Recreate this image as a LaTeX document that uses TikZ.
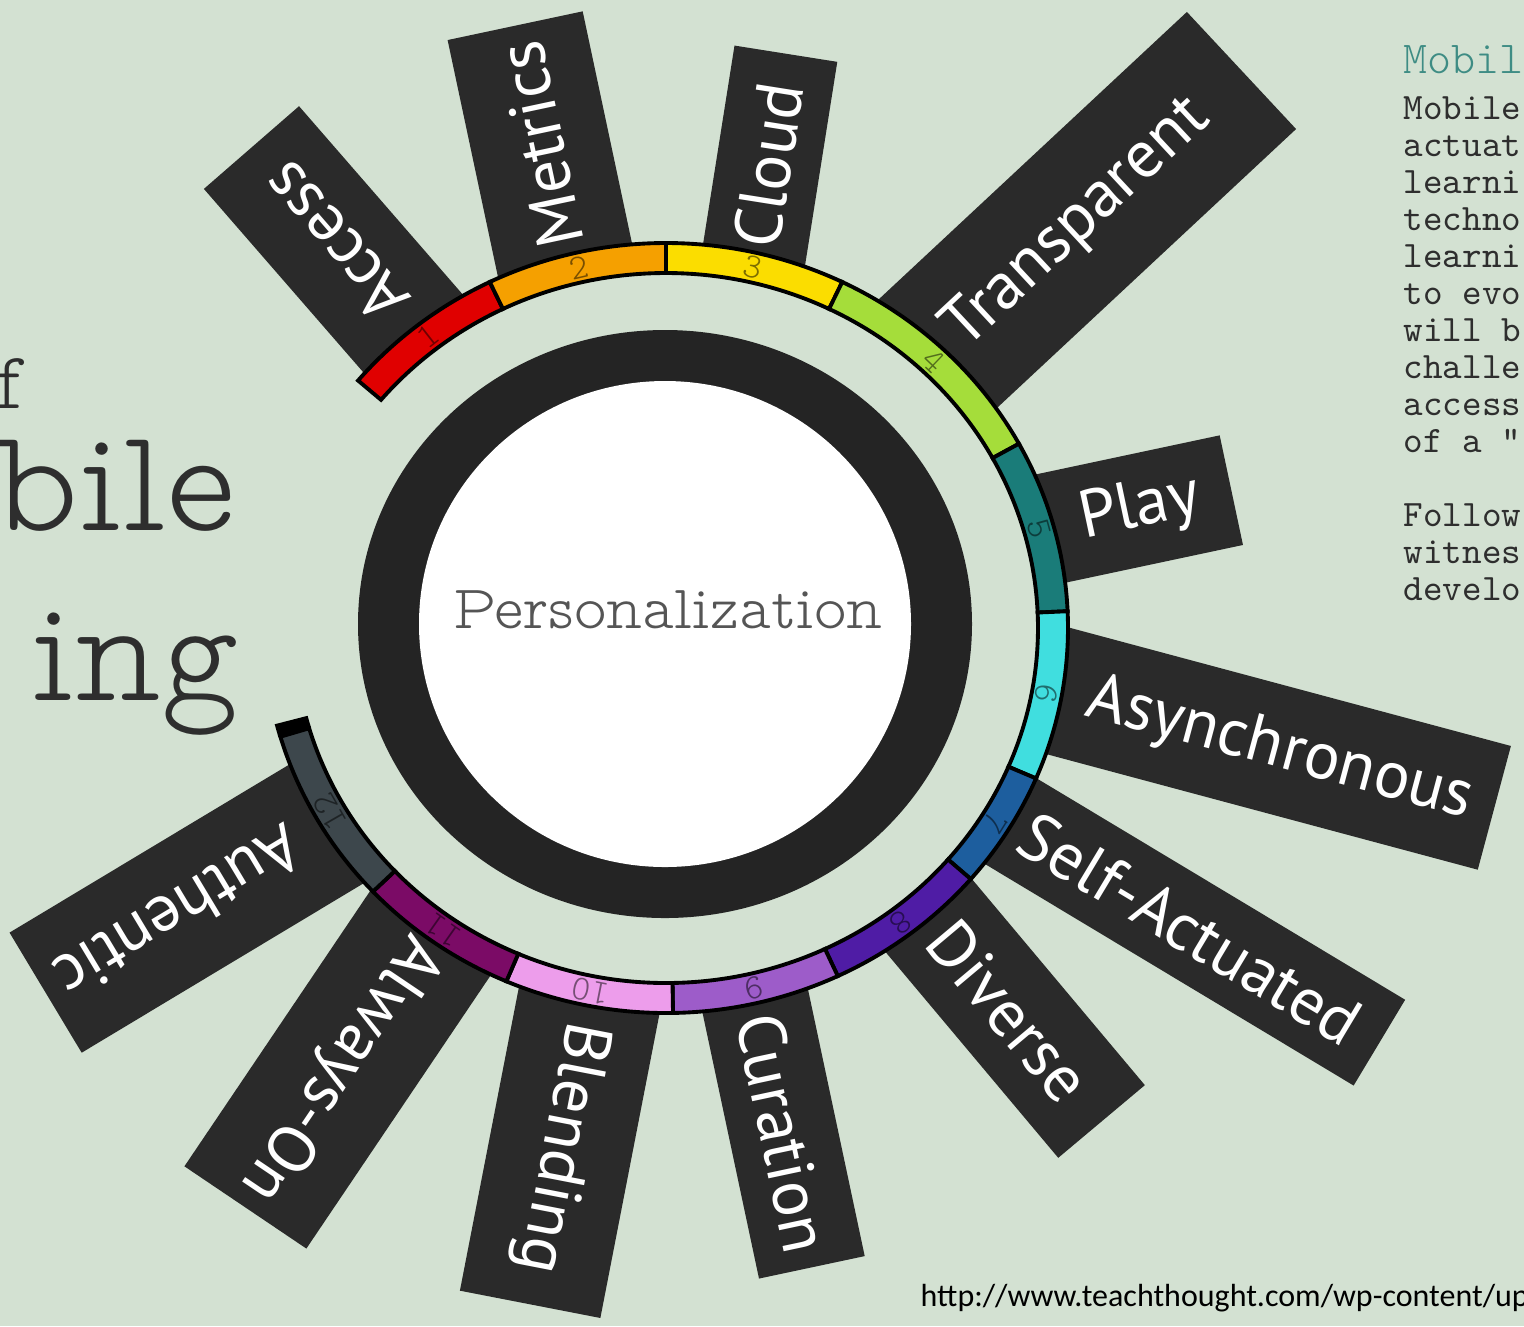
\documentclass[tikz,border=0pt]{standalone}
\usepackage{fontspec}
\usetikzlibrary{calc}
\newfontfamily\rayfont{PT Sans}
\newfontfamily\urlfont{Carlito}
\newfontfamily\slabfont{lmmonoproplt10-regular}[Extension=.otf]
\newfontfamily\monofont{lmmonolt10-regular}[Extension=.otf]
\newfontfamily\bodyfont{lmmono10-regular}[Extension=.otf]

\definecolor{bgsage}{HTML}{D3E1D2}
\definecolor{rayblack}{HTML}{2A2A2A}
\definecolor{ringblack}{HTML}{242424}
\definecolor{persgray}{HTML}{555555}
\definecolor{titleteal}{HTML}{3E8C84}
\definecolor{bodygray}{HTML}{2E2E2E}
\definecolor{seg1}{HTML}{E00000}
\definecolor{seg2}{HTML}{F5A000}
\definecolor{seg3}{HTML}{FBDD00}
\definecolor{seg4}{HTML}{A5DD3A}
\definecolor{seg5}{HTML}{1A7C79}
\definecolor{seg6}{HTML}{40DEDF}
\definecolor{seg7}{HTML}{1D5E9E}
\definecolor{seg8}{HTML}{4F1CA5}
\definecolor{seg9}{HTML}{9D5CC9}
\definecolor{seg10}{HTML}{ED9DEB}
\definecolor{seg11}{HTML}{7B0B66}
\definecolor{seg12}{HTML}{3D474C}

\tikzset{
  raybox/.style={fill=rayblack, inner sep=0pt, anchor=east},
  raylabel/.style={text=white, inner sep=0pt, font=\rayfont\fontsize{19}{19}\selectfont},
  seg/.style={draw=black, line width=1.1pt, line join=miter},
  segnum/.style={inner sep=0pt, text=black, text opacity=0.5, font=\slabfont\fontsize{10}{10}\selectfont},
  bodytxt/.style={anchor=base west, inner sep=0pt, text=bodygray, font=\bodyfont\fontsize{10.6}{10.6}\selectfont},
  bigtxt/.style={anchor=base east, inner sep=0pt, text=bodygray}
}

\begin{document}
\begin{tikzpicture}[x=0.01cm, y=-0.01cm]
\useasboundingbox (0,0) rectangle (1524,1326);
\clip (0,0) rectangle (1524,1326);
\fill[bgsage] (0,0) rectangle (1524,1326);

% rays
\foreach \n/\ox/\oy/\a/\L/\W/\td/\txt in {
  1/251/147/131/2.65/1.26/1.27/Access,
  2/515/25/102/2.50/1.38/1.22/Metrics,
  3/786/53/81/2.15/1.04/1.13/Cloud,
  4/1242/70/43/4.30/1.60/2.25/Transparent,
  5/1232/490/12/1.97/1.12/0.94/Play,
  6/1495/808/-15/4.64/1.28/2.23/Asynchronous,
  7/1380/1043/-31/4.42/1.00/2.22/Self-Actuated,
  8/1102/1122/-50/2.80/1.13/1.45/Diverse,
  9/812/1268/-78/2.83/1.08/1.38/Curation,
  10/530/1305/-101/3.17/1.43/1.60/Blending,
  11/245/1208/-124/3.38/1.47/1.69/Always-On,
  12/45/993/-149/3.36/1.40/1.56/Authentic}{
  \node[raybox, rotate=\a, minimum width=\L cm, minimum height=\W cm] (box\n) at (\ox,\oy) {};
  \node[raylabel, rotate=\a] (lab\n) at ($(box\n.east)!\td cm!(box\n.west)$) {\txt};
}

% core and ring
\begin{scope}[shift={(666,628)}, y=0.01cm]
\fill[ringblack] (-1,4) ellipse [x radius=307, y radius=294];
\fill[white] (-1,4) ellipse [x radius=246, y radius=243];
\foreach \i/\s/\e in {1/140/116, 2/116/90, 3/90/64, 4/64/28.6, 5/28.6/2.5, 6/2.5/-23,
  7/-23/-40.7, 8/-40.7/-64.7, 9/-64.7/-89, 10/-89/-113.4, 11/-113.4/-136.8, 12/-136.8/-163.6}{
  \filldraw[seg, fill=seg\i] (\s:402 and 385) arc[start angle=\s, end angle=\e, x radius=402, y radius=385]
    -- (\e:372 and 355) arc[start angle=\e, end angle=\s, x radius=372, y radius=355] -- cycle;
  \node[segnum, rotate={(\s+\e)/2-90}] (num\i) at ({(\s+\e)/2}:387 and 370) {\i};
}
\fill[black] (-163.6:404 and 387) arc[start angle=-163.6, end angle=-165.6, x radius=404, y radius=387]
  -- (-165.6:370 and 353) arc[start angle=-165.6, end angle=-163.6, x radius=370, y radius=353] -- cycle;
\end{scope}
\node[inner sep=0pt, text=persgray, font=\slabfont\fontsize{17.6}{17.6}\selectfont] (core) at (668,610) {Personalization};

% title fragments on the left
\node[bigtxt, font=\slabfont\fontsize{23}{23}\selectfont] (tof) at (22,408) {f};
\node[bigtxt, font=\slabfont\fontsize{42}{42}\selectfont] (tmob) at (236,530) {bile};
\node[bigtxt, font=\slabfont\fontsize{42}{42}\selectfont] (tlearn) at (240,700) {ing};

% text column on the right
\node[anchor=base west, inner sep=0pt, text=titleteal, font=\monofont\fontsize{13}{13}\selectfont] (ctitle) at (1403,73) {Mobil};
\foreach \t/\yy [count=\k] in {Mobile/119, actuat/156, learni/193, techno/230, learni/267,
  to evo/304, will b/341, challe/378, access/415, of a "/452, Follow/526, witnes/563, develo/600}{
  \node[bodytxt] (line\k) at (1403,\yy) {\t};
}

\node[anchor=base west, inner sep=0pt, text=black, font=\urlfont\fontsize{9.1}{9.1}\selectfont] (src) at (920,1306) {http://www.teachthought.com/wp-content/up};
\end{tikzpicture}
\end{document}
